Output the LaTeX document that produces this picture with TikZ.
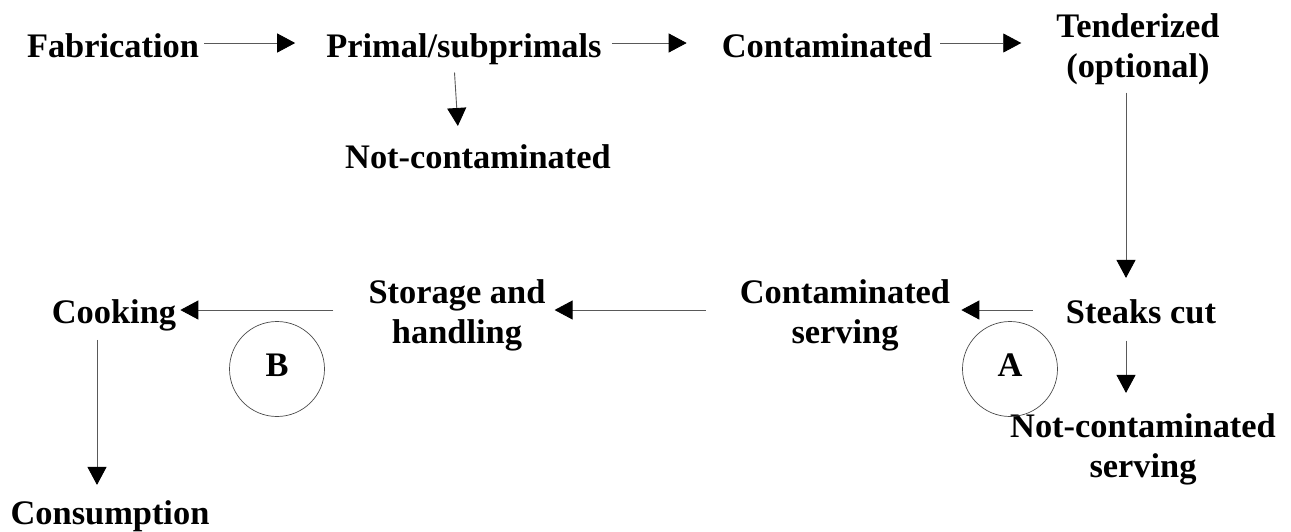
\documentclass[tikz,border=0pt]{standalone}
\usepackage{fontspec}
\setmainfont{Liberation Serif}
\usetikzlibrary{arrows.meta}
\begin{document}
\begin{tikzpicture}[x=1pt,y=-1pt,
    stage/.style={font=\bfseries\fontsize{34.4}{38}\selectfont,inner sep=0pt,anchor=base,align=center},
    flow/.style={draw=black!65,line width=0.9pt,-{Triangle[length=18pt,width=19pt,black]}},
    spot/.style={draw=black!70,line width=0.7pt,circle,minimum size=95pt,inner sep=0pt,
      text depth=8pt,font=\bfseries\fontsize{34.4}{38}\selectfont}]
  \useasboundingbox (0,0) rectangle (1291,531);
  % stages, top row
  \node[stage] (fab) at (113,57) {Fabrication};
  \node[stage] (primal) at (464,57) {Primal/subprimals};
  \node[stage] (cont) at (827,57) {Contaminated};
  \node[stage] (tend) at (1138,77) {Tenderized\\[2pt](optional)};
  \node[stage] (notcont) at (478,168) {Not-contaminated};
  % stages, bottom row
  \node[stage] (steaks) at (1141,323) {Steaks cut};
  \node[stage] (contserv) at (845,343) {Contaminated\\[2pt]serving};
  \node[stage] (notserv) at (1143,477) {Not-contaminated\\[2pt]serving};
  \node[stage] (storage) at (457,343) {Storage and\\[2pt]handling};
  \node[stage] (cook) at (114,323) {Cooking};
  \node[stage] (cons) at (110,524) {Consumption};
  % points A and B
  \node[spot] (ptA) at (1010,369) {A};
  \node[spot] (ptB) at (277,369) {B};
  \coordinate (rowone) at (0,43);
  \coordinate (rowtwo) at (0,310);
  \coordinate (colright) at (1126,0);
  \coordinate (colleft) at (97,0);
  % flows
  \draw[flow,shorten <=5pt,shorten >=31pt] (rowone -| fab.east) -- (rowone -| primal.west);
  \draw[flow,shorten <=10pt,shorten >=35pt] (rowone -| primal.east) -- (rowone -| cont.west);
  \draw[flow,shorten <=8pt,shorten >=35pt] (rowone -| cont.east) -- (rowone -| tend.west);
  \draw[flow,shorten <=8pt,shorten >=18pt] ([xshift=-10pt]primal.south) -- ([xshift=-19pt]notcont.north);
  \draw[flow,shorten <=8pt,shorten >=21pt] (colright |- tend.south) -- (colright |- steaks.north);
  \draw[flow,shorten <=33pt,shorten >=11pt] (rowtwo -| steaks.west) -- (rowtwo -| contserv.east);
  \draw[flow,shorten <=34pt,shorten >=9pt] (rowtwo -| contserv.west) -- (rowtwo -| storage.east);
  \draw[flow,shorten <=35pt,shorten >=4pt] (rowtwo -| storage.west) -- (rowtwo -| cook.east);
  \draw[flow,shorten <=17pt,shorten >=20pt] (colright |- steaks.south) -- (colright |- notserv.north);
  \draw[flow,shorten <=9pt,shorten >=15pt] (colleft |- cook.south) -- (colleft |- cons.north);
\end{tikzpicture}
\end{document}
